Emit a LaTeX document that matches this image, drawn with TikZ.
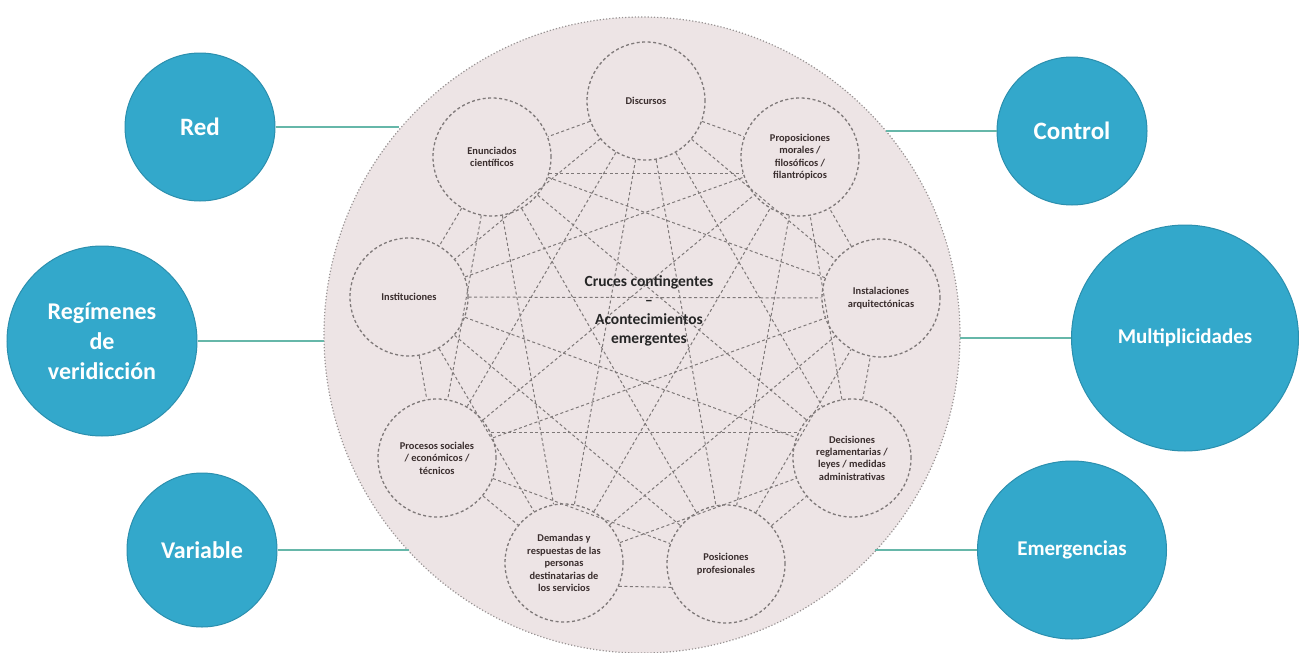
\documentclass[tikz,border=0pt]{standalone}
\usepackage{fontspec}
\setmainfont{Carlito}
\usetikzlibrary{shapes.geometric}
\definecolor{bubblefill}{HTML}{33A8CB}
\definecolor{bubbleline}{HTML}{2B8FAE}
\definecolor{linkcol}{HTML}{66B7A9}
\definecolor{texturecol}{HTML}{EDE4E5}
\definecolor{dashcol}{HTML}{7E7878}
\definecolor{smalltext}{HTML}{3A2E2E}
\tikzset{
  bubble/.style={ellipse, fill=bubblefill, draw=bubbleline, line width=1pt, text=white,
    font=\bfseries\fontsize{25}{28}\selectfont, align=center, inner sep=0pt},
  elem/.style={circle, draw=dashcol, dash pattern=on 3pt off 2.5pt, line width=1.3pt,
    minimum size=118pt, inner sep=0pt, align=center, text=smalltext,
    font=\bfseries\fontsize{10.4}{12.4}\selectfont},
  linkline/.style={draw=linkcol, line width=2pt},
  crossline/.style={draw=dashcol, line width=1pt, dash pattern=on 3pt off 2.5pt},
}
\begin{document}
\begin{tikzpicture}[x=1pt,y=-1pt]
\useasboundingbox (0,0) rectangle (1299,653);
% big textured circle
\node[circle, minimum size=636pt, inner sep=0pt, fill=texturecol, draw=dashcol!80,
  dotted, line width=1.2pt] (big) at (642,335) {};
% elements
\node[elem] (e1) at (646,101) {Discursos};
\node[elem] (e2) at (492,157) {Enunciados\\científicos};
\node[elem] (e3) at (409,297) {Instituciones};
\node[elem] (e4) at (437,458) {Procesos sociales\\/ económicos /\\técnicos};
\node[elem] (e5) at (564,563) {Demandas y\\respuestas de las\\personas\\destinatarias de\\los servicios};
\node[elem] (e6) at (726,564) {Posiciones\\profesionales};
\node[elem] (e7) at (852,458) {Decisiones\\reglamentarias /\\leyes / medidas\\administrativas};
\node[elem] (e8) at (881,298) {Instalaciones\\arquitectónicas};
\node[elem] (e9) at (800,157) {Proposiciones\\morales /\\filosóficos /\\filantrópicos};
% crossings (every element linked to every other)
\foreach \i/\j in {1/2,1/3,1/4,1/5,1/6,1/7,1/8,1/9,
                   2/3,2/4,2/5,2/6,2/7,2/8,
                   3/4,3/5,3/6,3/7,3/8,3/9,
                   4/5,4/6,4/8,4/9,
                   5/7,5/8,5/9,
                   6/7,6/8,6/9,
                   7/8,7/9,
                   8/9}{
  \draw[crossline] (e\i) -- (e\j);
}
\draw[crossline] (e2.-16) -- (e9.196);
\draw[crossline] (e4.25) -- (e7.155);
\draw[crossline] (e5.-23) -- (e6.203);
% center text
\node[font=\bfseries\fontsize{15.5}{19}\selectfont, align=center, text=black!85] (core) at (649,311)
  {Cruces contingentes\\–\\Acontecimientos\\emergentes};
% outer bubbles
\node[bubble, minimum width=150pt, minimum height=148pt] (red) at (200,127) {Red};
\node[bubble, minimum width=190pt, minimum height=190pt, font=\bfseries\fontsize{24}{30}\selectfont] (reg) at (102,341) {Regímenes\\de\\veridicción};
\node[bubble, minimum width=150pt, minimum height=154pt, font=\bfseries\fontsize{24}{27}\selectfont] (var) at (202,550) {Variable};
\node[bubble, minimum width=150pt, minimum height=148pt] (ctl) at (1072,131) {Control};
\node[bubble, minimum width=227pt, minimum height=226pt, font=\bfseries\fontsize{21}{25}\selectfont] (mul) at (1185,338) {Multiplicidades};
\node[bubble, minimum width=189pt, minimum height=178pt, font=\bfseries\fontsize{21}{25}\selectfont] (eme) at (1072,550) {Emergencias};
% connector ends on the big circle
\coordinate (bred) at (399,127);
\coordinate (breg) at (324,341);
\coordinate (bvar) at (409,550);
\coordinate (bctl) at (886,131);
\coordinate (bmul) at (960,338);
\coordinate (beme) at (875,550);
\draw[linkline] (red) -- (bred);
\draw[linkline] (reg) -- (breg);
\draw[linkline] (var) -- (bvar);
\draw[linkline] (ctl) -- (bctl);
\draw[linkline] (mul) -- (bmul);
\draw[linkline] (eme) -- (beme);
\end{tikzpicture}
\end{document}
